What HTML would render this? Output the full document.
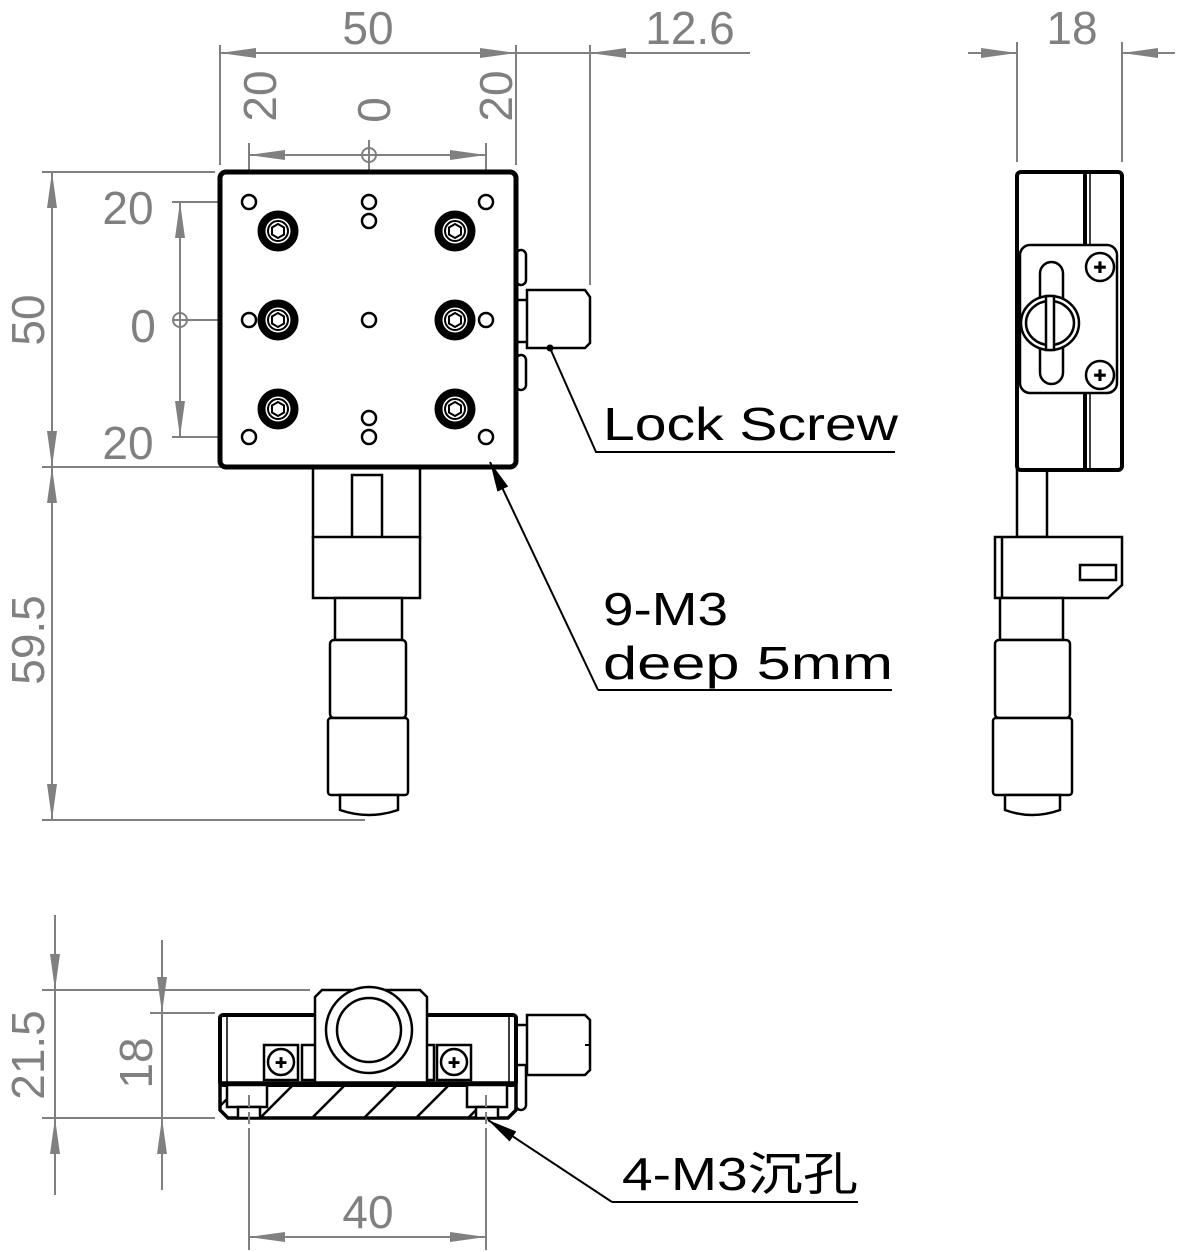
<!DOCTYPE html>
<html><head><meta charset="utf-8"><style>
html,body{margin:0;padding:0;background:#fff}
svg{display:block}
.d{stroke:#808080;stroke-width:2;fill:none}
.t{fill:#808080;font-family:"Liberation Sans",sans-serif;font-size:46px}
.k{stroke:#000;stroke-width:2.5;fill:#fff}
.kn{stroke:#000;stroke-width:2.5;fill:none}
.b{fill:#000;font-family:"Liberation Sans","Noto Sans CJK SC",sans-serif;font-size:46px}
</style></head><body>
<svg width="1199" height="1252" viewBox="0 0 1199 1252" xmlns="http://www.w3.org/2000/svg">
<defs>
<marker id="a" viewBox="0 0 36 10" refX="36" refY="5" markerWidth="36" markerHeight="10" markerUnits="userSpaceOnUse" orient="auto"><path d="M0,0L36,5L0,10z" fill="#808080"/></marker>
<marker id="ab" viewBox="0 0 30 12" refX="30" refY="6" markerWidth="30" markerHeight="12" markerUnits="userSpaceOnUse" orient="auto"><path d="M0,0L30,6L0,12z" fill="#000"/></marker>
<pattern id="h" width="52" height="40" patternUnits="userSpaceOnUse" patternTransform="translate(0,1118)"><line x1="0" y1="40" x2="40" y2="0" stroke="#000" stroke-width="2.5"/></pattern>
</defs>

<g class="d">
<line x1="220" y1="45" x2="220" y2="165"/><line x1="516" y1="45" x2="516" y2="165"/><line x1="590" y1="45" x2="590" y2="285"/>
<line x1="368" y1="53" x2="220" y2="53" marker-end="url(#a)"/><line x1="368" y1="53" x2="516" y2="53" marker-end="url(#a)"/>
<line x1="516" y1="53" x2="750" y2="53"/><line x1="640" y1="53" x2="590" y2="53" marker-end="url(#a)"/>
<line x1="249" y1="143" x2="249" y2="198"/><line x1="486" y1="143" x2="486" y2="198"/><line x1="369" y1="140" x2="369" y2="196"/>
<line x1="369" y1="155" x2="249" y2="155" marker-end="url(#a)"/><line x1="369" y1="155" x2="486" y2="155" marker-end="url(#a)"/>
<circle cx="369" cy="155" r="7"/>
<line x1="42" y1="172" x2="215" y2="172"/><line x1="42" y1="467" x2="310" y2="467"/><line x1="42" y1="820" x2="365" y2="820"/>
<line x1="52" y1="320" x2="52" y2="172" marker-end="url(#a)"/><line x1="52" y1="320" x2="52" y2="467" marker-end="url(#a)"/>
<line x1="52" y1="640" x2="52" y2="467" marker-end="url(#a)"/><line x1="52" y1="640" x2="52" y2="820" marker-end="url(#a)"/>
<line x1="172" y1="202" x2="241" y2="202"/><line x1="172" y1="320" x2="241" y2="320"/><line x1="172" y1="437" x2="241" y2="437"/>
<line x1="180" y1="320" x2="180" y2="202" marker-end="url(#a)"/><line x1="180" y1="320" x2="180" y2="437" marker-end="url(#a)"/>
<circle cx="180" cy="320" r="7"/>
</g>
<text class="t" x="368" y="44" text-anchor="middle">50</text>
<text class="t" x="690" y="44" text-anchor="middle">12.6</text>
<text class="t" transform="translate(276,96) rotate(-90)" text-anchor="middle">20</text>
<text class="t" transform="translate(390,110) rotate(-90)" text-anchor="middle">0</text>
<text class="t" transform="translate(512,96) rotate(-90)" text-anchor="middle">20</text>
<text class="t" x="128" y="224" text-anchor="middle">20</text>
<text class="t" x="143" y="342" text-anchor="middle">0</text>
<text class="t" x="128" y="459" text-anchor="middle">20</text>
<text class="t" transform="translate(44,320) rotate(-90)" text-anchor="middle">50</text>
<text class="t" transform="translate(44,640) rotate(-90)" text-anchor="middle">59.5</text>

<g>
<rect x="516" y="250" width="10" height="35" rx="5" class="k"/><rect x="516" y="355" width="10" height="35" rx="5" class="k"/>
<rect x="516" y="300" width="12" height="42" class="k"/>
<path d="M527,290H585L590,297V343L585,348H527Z" class="k"/>
<rect x="313" y="462" width="107" height="76" class="k"/>
<rect x="352" y="475" width="30" height="63" class="k"/>
<rect x="313" y="537" width="107" height="61" class="k"/>
<rect x="335" y="598" width="67" height="42" class="k"/>
<rect x="330" y="640" width="76" height="78" rx="4" class="k"/>
<rect x="328" y="718" width="80" height="77" rx="3" class="k"/>
<path d="M340,795H398V810Q369,820 340,810Z" class="k"/>
<rect x="220" y="172" width="296" height="295" rx="6" fill="#fff" stroke="#000" stroke-width="5"/>
<g class="k" stroke-width="2">
<circle cx="249" cy="202" r="7"/><circle cx="369" cy="202" r="7"/><circle cx="369" cy="221" r="7"/><circle cx="486" cy="202" r="7"/>
<circle cx="249" cy="320" r="7"/><circle cx="369" cy="320" r="7"/><circle cx="486" cy="320" r="7"/>
<circle cx="249" cy="437" r="7"/><circle cx="369" cy="418" r="7"/><circle cx="369" cy="437" r="7"/><circle cx="486" cy="437" r="7"/>
</g>
<g id="s">
<circle cx="278" cy="231" r="16.5" fill="#fff" stroke="#000" stroke-width="8"/>
<circle cx="278" cy="231" r="10" fill="none" stroke="#000" stroke-width="2"/>
<path d="M278,224L284,227.5V234.5L278,238L272,234.5V227.5Z" fill="none" stroke="#000" stroke-width="2"/>
</g>
<use href="#s" x="177"/><use href="#s" y="89"/><use href="#s" x="177" y="89"/><use href="#s" y="178"/><use href="#s" x="177" y="178"/>
</g>
<circle cx="550" cy="348" r="3.5"/>
<polyline points="550,348 596,452 895,452" fill="none" stroke="#000" stroke-width="2"/>
<text class="b" x="603" y="440" textLength="295" lengthAdjust="spacingAndGlyphs">Lock Screw</text>
<polyline points="892,690 598,690" fill="none" stroke="#000" stroke-width="2"/>
<line x1="598" y1="690" x2="490" y2="462" stroke="#000" stroke-width="2" marker-end="url(#ab)"/>
<text class="b" x="603" y="625" textLength="125" lengthAdjust="spacingAndGlyphs">9-M3</text>
<text class="b" x="603" y="679" textLength="290" lengthAdjust="spacingAndGlyphs">deep 5mm</text>

<g class="d">
<line x1="1017" y1="42" x2="1017" y2="162"/><line x1="1122" y1="42" x2="1122" y2="162"/>
<line x1="968" y1="53" x2="1017" y2="53" marker-end="url(#a)"/><line x1="1175" y1="53" x2="1122" y2="53" marker-end="url(#a)"/>
</g>
<text class="t" x="1072" y="44" text-anchor="middle">18</text>
<g>
<rect x="1017" y="470" width="30" height="67" class="k"/>
<path d="M995,537H1122V585L1108,598H995Z" class="k"/>
<line x1="1002" y1="537" x2="1002" y2="598" class="kn" stroke-width="1.5"/>
<rect x="1080" y="565" width="36" height="15" class="k" stroke-width="2"/>
<rect x="1000" y="598" width="63" height="42" class="k"/>
<rect x="995" y="640" width="75" height="78" rx="4" class="k"/>
<rect x="993" y="718" width="79" height="77" rx="3" class="k"/>
<path d="M1005,795H1060V810Q1032,820 1005,810Z" class="k"/>
<rect x="1017" y="172" width="105" height="298" rx="4" fill="#fff" stroke="#000" stroke-width="4"/>
<line x1="1085" y1="174" x2="1085" y2="468" stroke="#000" stroke-width="4"/>
<line x1="1090" y1="174" x2="1090" y2="468" stroke="#000" stroke-width="1.5"/>
<rect x="1020" y="245" width="97" height="148" rx="10" class="k"/>
<rect x="1040" y="262" width="23" height="122" rx="11.5" class="k"/>
<ellipse cx="1050" cy="323" rx="29" ry="27" class="k"/>
<ellipse cx="1050" cy="323" rx="24" ry="22" class="kn" stroke-width="1.5"/>
<rect x="1046" y="296" width="8" height="54" class="k" stroke-width="1.5"/>
<circle cx="1100" cy="267" r="14" class="k"/><circle cx="1100" cy="375" r="14" class="k"/>
<text x="1100" y="273" font-size="16" text-anchor="middle" font-family="Liberation Sans">✚</text>
<text x="1100" y="381" font-size="16" text-anchor="middle" font-family="Liberation Sans">✚</text>
</g>

<g class="d">
<line x1="42" y1="990" x2="310" y2="990"/><line x1="150" y1="1013" x2="215" y2="1013"/><line x1="42" y1="1118" x2="215" y2="1118"/>
<line x1="55" y1="915" x2="55" y2="990" marker-end="url(#a)"/><line x1="55" y1="1195" x2="55" y2="1118" marker-end="url(#a)"/>
<line x1="55" y1="990" x2="55" y2="1118"/>
<line x1="162" y1="940" x2="162" y2="1013" marker-end="url(#a)"/><line x1="162" y1="1190" x2="162" y2="1118" marker-end="url(#a)"/>
<line x1="162" y1="1013" x2="162" y2="1118"/>
<line x1="249" y1="1128" x2="249" y2="1250"/><line x1="486" y1="1128" x2="486" y2="1250"/>
<line x1="368" y1="1237" x2="249" y2="1237" marker-end="url(#a)"/><line x1="368" y1="1237" x2="486" y2="1237" marker-end="url(#a)"/>
</g>
<text class="t" transform="translate(44,1055) rotate(-90)" text-anchor="middle">21.5</text>
<text class="t" transform="translate(152,1063) rotate(-90)" text-anchor="middle">18</text>
<text class="t" x="368" y="1228" text-anchor="middle">40</text>
<g>
<rect x="516" y="1040" width="10" height="70" rx="5" class="k"/>
<rect x="516" y="1025" width="12" height="40" class="k"/>
<path d="M527,1015H585L590,1020V1070L585,1075H527Z" class="k"/>
<line x1="585" y1="1045" x2="590" y2="1045" stroke="#000" stroke-width="2"/>
<rect x="220" y="1015" width="296" height="70" rx="3" fill="#fff" stroke="#000" stroke-width="4"/>
<line x1="227" y1="1017" x2="227" y2="1083" stroke="#000" stroke-width="1.5"/>
<line x1="509" y1="1017" x2="509" y2="1083" stroke="#000" stroke-width="1.5"/>
<rect x="264" y="1045" width="34" height="35" class="k" stroke-width="2"/>
<rect x="437" y="1045" width="34" height="35" class="k" stroke-width="2"/>
<circle cx="281" cy="1062" r="13" class="k" stroke-width="2"/><circle cx="454" cy="1062" r="13" class="k" stroke-width="2"/>
<text x="281" y="1068" font-size="15" text-anchor="middle" font-family="Liberation Sans">✚</text>
<text x="454" y="1068" font-size="15" text-anchor="middle" font-family="Liberation Sans">✚</text>
<rect x="302" y="1045" width="16" height="35" class="k" stroke-width="2"/>
<rect x="418" y="1045" width="16" height="35" class="k" stroke-width="2"/>
<path d="M322,990H420L427,997V1085H315V997Z" class="k"/>
<circle cx="369" cy="1030" r="43" class="k"/><circle cx="369" cy="1030" r="32" class="k"/>
<path d="M220,1083H516V1110L508,1118H228L220,1110Z" fill="url(#h)" stroke="#000" stroke-width="3.5"/>
<rect x="227" y="1085" width="40" height="22" class="k" stroke-width="2"/>
<rect x="238" y="1107" width="22" height="11" class="k" stroke-width="2"/>
<rect x="467" y="1085" width="40" height="22" class="k" stroke-width="2"/>
<rect x="476" y="1107" width="22" height="11" class="k" stroke-width="2"/>
</g>
<line x1="249" y1="1095" x2="249" y2="1125" class="d" stroke-dasharray="12,5"/>
<line x1="486" y1="1095" x2="486" y2="1125" class="d" stroke-dasharray="12,5"/>
<polyline points="858,1202 612,1202" fill="none" stroke="#000" stroke-width="2"/>
<line x1="612" y1="1202" x2="488" y2="1120" stroke="#000" stroke-width="2" marker-end="url(#ab)"/>
<text class="b" x="622" y="1190" font-size="42" textLength="236" lengthAdjust="spacingAndGlyphs">4-M3沉孔</text>
</svg>
</body></html>
